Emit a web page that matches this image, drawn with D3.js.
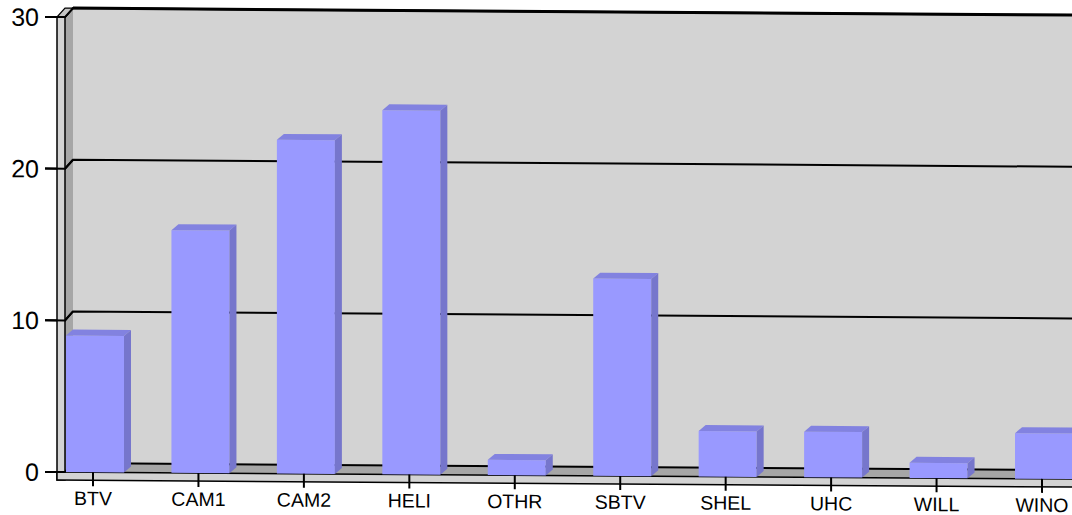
<!DOCTYPE html>
<html>
<head>
<meta charset="utf-8">
<script src="https://cdn.jsdelivr.net/npm/d3@7"></script>
<style>
  body { margin: 0; background: #fff; }
  text { font-family: "Liberation Sans", Arial, sans-serif; fill: #000; }
</style>
</head>
<body>
<div class="chart"></div>
<script>
const categories = ["BTV", "CAM1", "CAM2", "HELI", "OTHR", "SBTV", "SHEL", "UHC", "WILL", "WINO"];
const values = [9, 16, 22, 24, 1, 13, 3, 3, 1, 3];
const yTicks = [0, 10, 20, 30];

const width = 1072, height = 515;
const axisX = 57, wallT = 8;       // front axis line and wall thickness
const dDx = 8, dDy = 9;            // wall depth offset
const bDx = 7, bDy = 6;            // bar depth offset
const rightEdge = 1110;
const skew = 0.4;                  // slight tilt of the whole plot (deg)

const x = d3.scalePoint().domain(categories).range([93, 1042]);
const y = d3.scaleLinear().domain([0, 30]).range([472, 17]);

const svg = d3.select(".chart").append("svg")
  .attr("width", width).attr("height", height);

const g = svg.append("g")
  .attr("transform", `translate(${axisX},0) skewY(${skew}) translate(${-axisX},0)`);

const y0 = y(0), yTop = y(30);
const inX = axisX + wallT;          // inner front edge of wall
const backX = inX + dDx;

// back wall
g.append("rect")
  .attr("x", backX).attr("y", yTop - dDy)
  .attr("width", rightEdge - backX).attr("height", y0 - dDy - (yTop - dDy))
  .attr("fill", "#d3d3d3");

// left wall inner side
g.append("polygon")
  .attr("points", [[inX, yTop], [backX, yTop - dDy], [backX, y0 - dDy], [inX, y0]].join(" "))
  .attr("fill", "#a6a6a6");

// floor top
g.append("polygon")
  .attr("points", [[inX, y0], [backX, y0 - dDy], [rightEdge, y0 - dDy], [rightEdge, y0]].join(" "))
  .attr("fill", "#a6a6a6");

// gridlines
yTicks.forEach(t => {
  g.append("path")
    .attr("d", `M${axisX - 12},${y(t)}H${inX}L${backX},${y(t) - dDy}H${rightEdge}`)
    .attr("fill", "none").attr("stroke", "#000").attr("stroke-width", 2);
});

// top back edge (thicker)
g.append("line")
  .attr("x1", backX).attr("x2", rightEdge)
  .attr("y1", yTop - dDy).attr("y2", yTop - dDy)
  .attr("stroke", "#000").attr("stroke-width", 3);

// left wall front face + top
g.append("rect")
  .attr("x", axisX).attr("y", yTop).attr("width", wallT).attr("height", y0 + wallT - yTop)
  .attr("fill", "#d3d3d3").attr("stroke", "#000").attr("stroke-width", 1.5);
g.append("polygon")
  .attr("points", [[axisX, yTop], [inX, yTop], [backX, yTop - dDy], [axisX + dDx, yTop - dDy]].join(" "))
  .attr("fill", "#c4c4c4").attr("stroke", "#000").attr("stroke-width", 1.2);

// floor front face
g.append("rect")
  .attr("x", axisX).attr("y", y0).attr("width", rightEdge - axisX).attr("height", wallT)
  .attr("fill", "#d3d3d3").attr("stroke", "#000").attr("stroke-width", 1.5);

// redraw the front tick stubs over the wall
yTicks.forEach(t => {
  g.append("path")
    .attr("d", `M${axisX - 12},${y(t)}H${inX}L${backX},${y(t) - dDy}`)
    .attr("fill", "none").attr("stroke", "#000").attr("stroke-width", 2);
});

// bars
const bw = 58;
const bars = g.selectAll(".bar").data(categories.map((c, i) => ({ c, v: values[i] })))
  .enter().append("g").attr("class", "bar");

bars.append("rect")
  .attr("x", d => x(d.c) - 27).attr("y", d => y(d.v))
  .attr("width", bw).attr("height", d => y0 - y(d.v))
  .attr("fill", "#9999ff");

bars.append("polygon")
  .attr("points", d => {
    const x0 = x(d.c) - 27, x1 = x0 + bw, yv = y(d.v);
    return [[x0, yv], [x0 + bDx, yv - bDy], [x1 + bDx, yv - bDy], [x1, yv]].join(" ");
  })
  .attr("fill", "#8282e0");

bars.append("polygon")
  .attr("points", d => {
    const x1 = x(d.c) - 27 + bw, yv = y(d.v);
    return [[x1, yv], [x1 + bDx, yv - bDy], [x1 + bDx, y0 - bDy], [x1, y0]].join(" ");
  })
  .attr("fill", "#7676cc");

// x ticks and labels
categories.forEach(c => {
  g.append("line")
    .attr("x1", x(c)).attr("x2", x(c))
    .attr("y1", y0).attr("y2", y0 + 14)
    .attr("stroke", "#000").attr("stroke-width", 2);
  g.append("text")
    .attr("x", x(c)).attr("y", 505)
    .attr("text-anchor", "middle")
    .style("font-size", "19.5px")
    .text(c);
});

// y labels
yTicks.forEach(t => {
  g.append("text")
    .attr("x", 39).attr("y", y(t) + 9)
    .attr("text-anchor", "end")
    .style("font-size", "25px")
    .text(t);
});
</script>
</body>
</html>
